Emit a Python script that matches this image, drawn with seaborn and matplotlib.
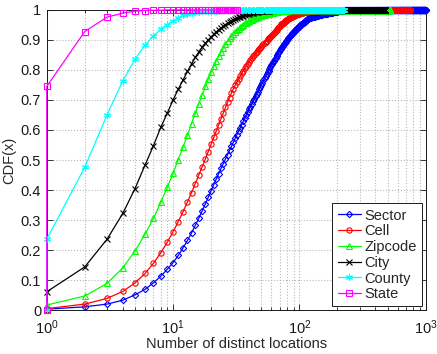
import matplotlib
matplotlib.use("Agg")
import matplotlib.pyplot as plt
import numpy as np
import pandas as pd
import seaborn as sns
from matplotlib.ticker import LogLocator, FixedLocator, FuncFormatter, NullFormatter

# Empirical CDF of the number of distinct locations per user, at granularity
# levels from cell sector up to state. Each list holds F(1), F(2), ... ; past the
# end of a list the CDF has reached 1.0, which lasts until the largest observed count.
series_names = ["Sector", "Cell", "Zipcode", "City", "County", "State"]

sector_cdf = [
    0.003, 0.011, 0.020, 0.033, 0.051, 0.069, 0.091, 0.113, 0.136, 0.158,
    0.182, 0.207, 0.232, 0.257, 0.282, 0.306, 0.330, 0.353, 0.376, 0.398,
    0.418, 0.437, 0.455, 0.472, 0.488, 0.503, 0.518, 0.532, 0.546, 0.559,
    0.572, 0.584, 0.596, 0.607, 0.618, 0.629, 0.640, 0.650, 0.660, 0.669,
    0.678, 0.687, 0.695, 0.704, 0.712, 0.720, 0.728, 0.736, 0.743, 0.751,
    0.758, 0.765, 0.772, 0.779, 0.786, 0.792, 0.798, 0.804, 0.810, 0.816,
    0.821, 0.826, 0.831, 0.836, 0.841, 0.846, 0.851, 0.856, 0.861, 0.865,
    0.869, 0.873, 0.877, 0.881, 0.885, 0.888, 0.891, 0.894, 0.897, 0.900,
    0.903, 0.906, 0.909, 0.912, 0.914, 0.917, 0.919, 0.922, 0.924, 0.926,
    0.929, 0.931, 0.933, 0.935, 0.937, 0.939, 0.941, 0.943, 0.944, 0.946,
    0.948, 0.949, 0.951, 0.952, 0.954, 0.955, 0.957, 0.958, 0.960, 0.961,
    0.962, 0.964, 0.965, 0.966, 0.967, 0.969, 0.970, 0.971, 0.972, 0.973,
    0.973, 0.974, 0.974, 0.975, 0.975, 0.976, 0.976, 0.977, 0.977, 0.977,
    0.978, 0.978, 0.979, 0.979, 0.979, 0.980, 0.980, 0.980, 0.981, 0.981,
    0.981, 0.982, 0.982, 0.982, 0.983, 0.983, 0.983, 0.984, 0.984, 0.984,
    0.985, 0.985, 0.985, 0.985, 0.986, 0.986, 0.986, 0.986, 0.987, 0.987,
    0.987, 0.987, 0.988, 0.988, 0.988, 0.988, 0.988, 0.989, 0.989, 0.989,
    0.989, 0.989, 0.990, 0.990, 0.990, 0.990, 0.990, 0.991, 0.991, 0.991,
    0.991, 0.991, 0.992, 0.992, 0.992, 0.992, 0.992, 0.992, 0.993, 0.993,
    0.993, 0.993, 0.993, 0.994, 0.994, 0.994, 0.994, 0.994, 0.995, 0.995,
    0.995, 0.995, 0.995, 0.995, 0.996, 0.996, 0.996, 0.996, 0.996, 0.997,
    0.997, 0.997, 0.997, 0.997, 0.997, 0.998, 0.998, 0.998, 0.998, 0.998,
    0.998, 0.998, 0.999, 0.999, 0.999, 0.999, 0.999, 0.999, 0.999, 0.999,
]
sector_max = 1000

cell_cdf = [
    0.005, 0.020, 0.039, 0.062, 0.091, 0.122, 0.156, 0.191, 0.226, 0.261,
    0.295, 0.328, 0.360, 0.391, 0.421, 0.450, 0.477, 0.503, 0.528, 0.552,
    0.575, 0.597, 0.618, 0.638, 0.657, 0.675, 0.692, 0.708, 0.723, 0.737,
    0.749, 0.760, 0.770, 0.780, 0.789, 0.797, 0.805, 0.813, 0.820, 0.827,
    0.833, 0.839, 0.845, 0.851, 0.856, 0.861, 0.866, 0.870, 0.874, 0.878,
    0.882, 0.886, 0.890, 0.894, 0.898, 0.902, 0.905, 0.908, 0.911, 0.914,
    0.917, 0.921, 0.924, 0.928, 0.931, 0.934, 0.937, 0.940, 0.943, 0.946,
    0.949, 0.952, 0.954, 0.956, 0.958, 0.960, 0.962, 0.964, 0.966, 0.968,
    0.969, 0.970, 0.972, 0.973, 0.974, 0.975, 0.977, 0.978, 0.979, 0.980,
    0.981, 0.982, 0.983, 0.984, 0.985, 0.986, 0.986, 0.987, 0.988, 0.988,
    0.989, 0.989, 0.990, 0.990, 0.991, 0.991, 0.992, 0.992, 0.992, 0.993,
    0.993, 0.993, 0.994, 0.994, 0.994, 0.995, 0.995, 0.995, 0.995, 0.996,
    0.996, 0.996, 0.996, 0.997, 0.997, 0.997, 0.997, 0.997, 0.998, 0.998,
    0.998, 0.998, 0.998, 0.998, 0.999, 0.999, 0.999, 0.999, 0.999, 0.999,
]
cell_max = 750

zipcode_cdf = [
    0.017, 0.047, 0.089, 0.141, 0.197, 0.253, 0.306, 0.359, 0.409, 0.456,
    0.501, 0.543, 0.583, 0.621, 0.656, 0.688, 0.718, 0.745, 0.770, 0.792,
    0.812, 0.830, 0.846, 0.861, 0.874, 0.886, 0.897, 0.906, 0.914, 0.921,
    0.927, 0.933, 0.938, 0.943, 0.947, 0.951, 0.955, 0.958, 0.961, 0.964,
    0.966, 0.968, 0.970, 0.972, 0.974, 0.976, 0.977, 0.979, 0.980, 0.981,
    0.982, 0.983, 0.984, 0.985, 0.986, 0.987, 0.988, 0.989, 0.989, 0.990,
    0.991, 0.991, 0.992, 0.992, 0.993, 0.993, 0.994, 0.994, 0.995, 0.995,
    0.995, 0.996, 0.996, 0.996, 0.997, 0.997, 0.997, 0.998, 0.998, 0.998,
    0.998, 0.999, 0.999, 0.999, 0.999, 0.999, 0.999, 0.999, 0.999, 0.999,
]
zipcode_max = 525

city_cdf = [
    0.061, 0.144, 0.236, 0.322, 0.405, 0.483, 0.548, 0.609, 0.656, 0.700,
    0.736, 0.767, 0.795, 0.820, 0.842, 0.860, 0.876, 0.889, 0.900, 0.910,
    0.919, 0.927, 0.934, 0.940, 0.945, 0.950, 0.955, 0.959, 0.963, 0.967,
    0.970, 0.973, 0.975, 0.977, 0.979, 0.981, 0.983, 0.985, 0.986, 0.988,
    0.989, 0.990, 0.991, 0.992, 0.993, 0.993, 0.994, 0.995, 0.995, 0.996,
    0.996, 0.997, 0.997, 0.997, 0.998, 0.998, 0.998, 0.999, 0.999, 0.999,
]
city_max = 480

county_cdf = [
    0.236, 0.476, 0.650, 0.764, 0.836, 0.883, 0.913, 0.936, 0.951, 0.963,
    0.974, 0.982, 0.987, 0.990, 0.992, 0.994, 0.995, 0.996, 0.997, 0.997,
    0.998, 0.998, 0.998, 0.999, 0.999, 0.999, 0.999, 0.999, 0.999, 0.999,
]
county_max = 225

state_cdf = [0.745, 0.928, 0.976, 0.989, 0.996, 0.998, 0.999, 0.999]
state_max = 32

series_cdf = [sector_cdf, cell_cdf, zipcode_cdf, city_cdf, county_cdf, state_cdf]
series_max = [sector_max, cell_max, zipcode_max, city_max, county_max, state_max]

colors = ["#0000ff", "#ff0000", "#00ff00", "#000000", "#00ffff", "#ff00ff"]
markers = ["D", "o", "^", "x", (6, 2, 0), "s"]
marker_sizes = [3.2, 3.8, 4.0, 4.2, 5.0, 4.0]


def ecdf_frame(name, head, last):
    """ECDF points: a leading (min, 0) point, then F at each count."""
    n = len(head)
    x = [1] + list(range(1, n + 1)) + list(range(n + 1, last + 1))
    y = [0.0] + list(head) + [1.0] * (last - n)
    return pd.DataFrame({"x": x, "cdf": y, "series": name})


frames = [ecdf_frame(n, c, m) for n, c, m in zip(series_names, series_cdf, series_max)]

sns.set_style("ticks")
plt.rcParams["font.family"] = ["Liberation Sans", "DejaVu Sans"]
plt.rcParams["mathtext.fontset"] = "custom"
plt.rcParams["mathtext.rm"] = "Liberation Sans"
plt.rcParams["mathtext.it"] = "Liberation Sans"
plt.rcParams["mathtext.default"] = "regular"

fig = plt.figure(figsize=(4.37, 3.54), dpi=100)
ax = fig.add_axes([0.107, 0.124, 0.867, 0.848])

for frame, name, color, marker, ms in zip(frames, series_names, colors, markers, marker_sizes):
    sns.lineplot(
        data=frame, x="x", y="cdf", ax=ax,
        estimator=None, sort=False,
        color=color, linewidth=0.9,
        marker=marker, markersize=ms,
        markerfacecolor="none", markeredgecolor=color, markeredgewidth=0.8,
        label=name, clip_on=False, zorder=3,
    )

ax.set_xscale("log")
ax.set_xlim(1, 1000)
ax.set_ylim(0, 1)

ax.xaxis.set_major_locator(LogLocator(base=10, numticks=10))
ax.xaxis.set_minor_locator(LogLocator(base=10, subs=np.arange(2, 10), numticks=20))
ax.xaxis.set_minor_formatter(NullFormatter())
ax.yaxis.set_major_locator(FixedLocator(np.round(np.arange(0, 1.01, 0.1), 1)))
ax.yaxis.set_major_formatter(FuncFormatter(lambda v, _: f"{v:g}"))

ax.tick_params(which="both", direction="in", top=True, right=True,
               labelsize=10.5, colors="#1a1a1a", width=0.6)
ax.tick_params(which="major", length=4, pad=4)
ax.tick_params(which="minor", length=2)
ax.tick_params(axis="x", which="major", pad=6)

ax.grid(True, which="major", linestyle=":", color="#b8b8b8", linewidth=0.8)
ax.grid(True, which="minor", axis="x", linestyle=":", color="#b8b8b8", linewidth=0.8)
ax.set_axisbelow(True)

for side in ax.spines.values():
    side.set_color("#1a1a1a")
    side.set_linewidth(0.7)
    side.set_zorder(2.5)

ax.set_xlabel("Number of distinct locations", fontsize=10.5, labelpad=0)
ax.set_ylabel("CDF(x)", fontsize=10.5, labelpad=3)

leg = ax.legend(
    loc="lower right", fontsize=10.5, frameon=True, fancybox=False,
    edgecolor="#1a1a1a", framealpha=1, borderaxespad=0.25,
    handlelength=1.6, handletextpad=0.25, labelspacing=0.12,
    borderpad=0.35,
)
leg.get_frame().set_linewidth(0.7)

fig.savefig("out.png", dpi=100)
